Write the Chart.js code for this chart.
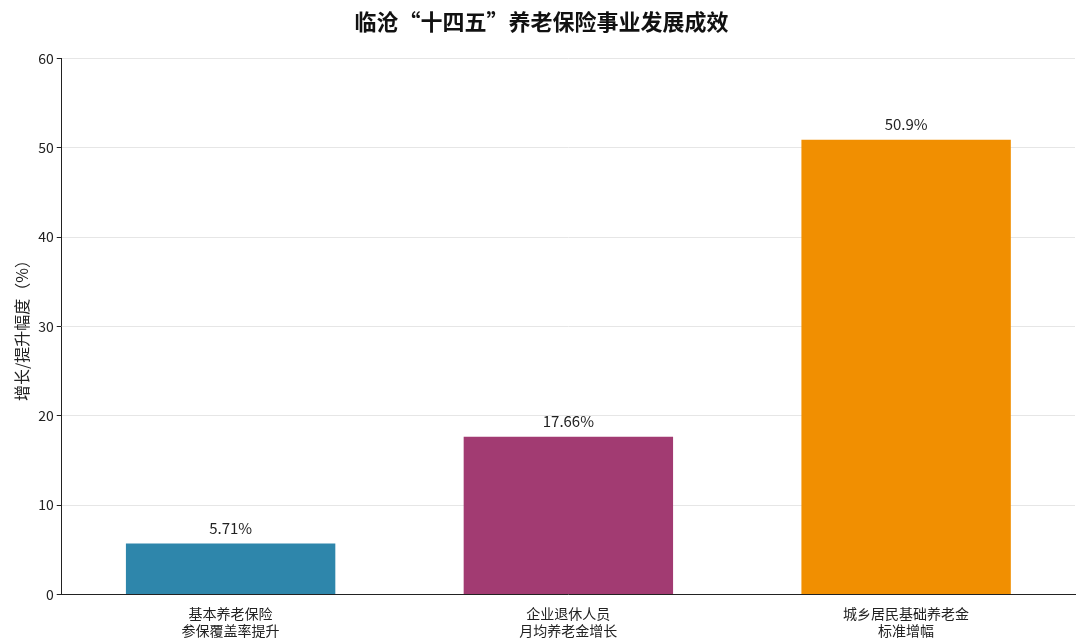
<!DOCTYPE html>
<html><head><meta charset="utf-8">
<script src="https://cdn.jsdelivr.net/npm/chart.js@4"></script>
<style>html,body{margin:0;background:#fff}#w{width:1080px;height:644px}</style>
</head><body><div id="w"><canvas id="c"></canvas></div>
<script>
const categories = [["基本养老保险","参保覆盖率提升"],["企业退休人员","月均养老金增长"],["城乡居民基础养老金","标准增幅"]];
const values = [5.71, 17.66, 50.9];
const valueLabels = ["5.71%","17.66%","50.9%"];
const colors = ["#2E86AB","#A23B72","#F18F01"];
const F = "'Noto Sans CJK SC','DejaVu Sans',sans-serif";
const labelPlugin = {id:'lbl', afterDatasetsDraw(ch){
  const ctx=ch.ctx; const meta=ch.getDatasetMeta(0);
  ctx.save(); ctx.font="15px "+F; ctx.fillStyle="#222"; ctx.textAlign="center"; ctx.textBaseline="bottom";
  meta.data.forEach((b,i)=>ctx.fillText(valueLabels[i], b.x, b.y-8));
  ctx.restore();
}};
new Chart(document.getElementById('c'),{
  type:'bar',
  data:{labels:categories,datasets:[{data:values,backgroundColor:colors,barPercentage:0.62,categoryPercentage:1}]},
  options:{responsive:true,maintainAspectRatio:false,animation:false,
    layout:{padding:{left:8,right:5,top:0,bottom:2}},
    plugins:{legend:{display:false},tooltip:{enabled:false},
      title:{display:true,text:'临沧“十四五”养老保险事业发展成效',font:{family:F,size:22},color:'#111',padding:{top:8,bottom:24}}},
    scales:{
      x:{grid:{display:false},border:{color:'#222'},ticks:{color:'#222',font:{family:F,size:14}}},
      y:{min:0,max:60,ticks:{stepSize:10,color:'#222',font:{family:F,size:14}},
        border:{color:'#222'},
        grid:{color:'#e6e6e6',borderDash:[4,4],drawTicks:true,tickColor:'#222',tickLength:5},
        title:{display:true,text:'增长/提升幅度（%）',font:{family:F,size:16},color:'#222'}}
    }},
  plugins:[labelPlugin]
});
</script></body></html>
